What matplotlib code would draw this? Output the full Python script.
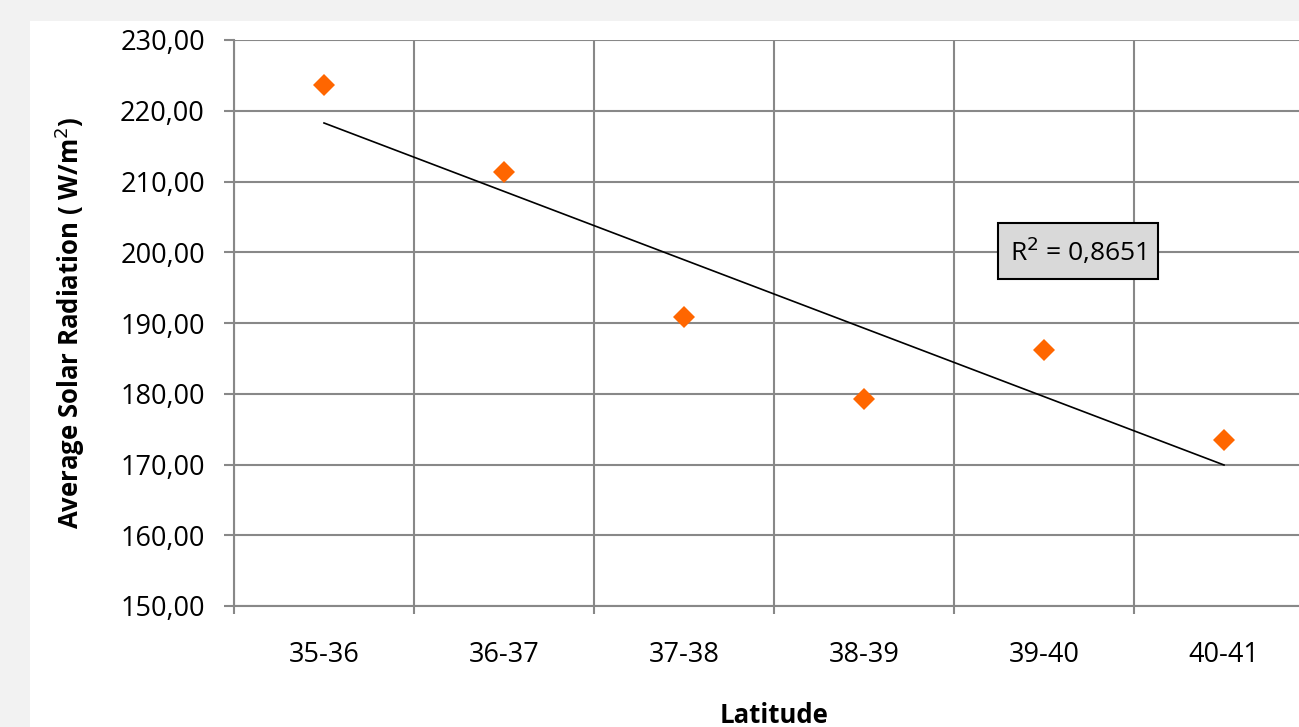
import matplotlib.pyplot as plt
import numpy as np
from matplotlib.ticker import FuncFormatter, MultipleLocator

plt.rcParams['font.family'] = ['Open Sans', 'DejaVu Sans']

latitudes = ['35-36', '36-37', '37-38', '38-39', '39-40', '40-41']
radiation = [223.7, 211.3, 190.8, 179.2, 186.2, 173.4]
r2_text = 'R$^2$ = 0,8651'

fig = plt.figure(figsize=(12.99, 7.27), dpi=100)
fig.patch.set_facecolor('#f2f2f2')

# white chart panel (cropped at right and bottom like the original)
panel = plt.Rectangle((30 / 1299, 0), 1.0, 1 - 21 / 727, transform=fig.transFigure,
                      facecolor='white', edgecolor='none', zorder=-10)
fig.patches.append(panel)

ax = fig.add_axes([234 / 1299, 121 / 727, 1080 / 1299, (606 - 40) / 727])
ax.set_facecolor('white')

x = np.arange(1, len(latitudes) + 1)
ax.plot(x, radiation, linestyle='none', marker='D', markersize=11,
        color='#ff6600', markeredgewidth=0, zorder=3)

# linear trendline
k, b = np.polyfit(x, radiation, 1)
ax.plot(x, k * x + b, color='black', linewidth=1.2, zorder=2)

ax.set_xlim(0.5, 6.5)
ax.set_ylim(150, 230)
ax.yaxis.set_major_locator(MultipleLocator(10))
ax.yaxis.set_major_formatter(FuncFormatter(lambda v, p: f"{v:.2f}".replace('.', ',')))

ax.set_xticks(x)
ax.set_xticklabels(latitudes)
ax.set_xticks(np.arange(0.5, 7, 1), minor=True)
ax.tick_params(axis='x', which='major', length=0, pad=25, labelsize=19.5)
ax.tick_params(axis='x', which='minor', length=6, width=1.5, color='#888888', direction='out')
ax.tick_params(axis='y', length=7.5, width=1.5, color='#888888', labelsize=19.5, pad=13.5)

ax.grid(True, which='major', axis='y', color='#888888', linewidth=1.5)
ax.grid(True, which='minor', axis='x', color='#888888', linewidth=1.5)
ax.set_axisbelow(True)
for s in ['top', 'right']:
    ax.spines[s].set_visible(False)
for s in ['left', 'bottom']:
    ax.spines[s].set_color('#888888')
    ax.spines[s].set_linewidth(1.5)

ax.set_ylabel('Average Solar Radiation ( W/m$^2$)', fontsize=18.5, fontweight='bold', labelpad=24)
# the original crops this label at the bottom; keep it just inside the frame
ax.set_xlabel('Latitude', fontsize=18.5, fontweight='bold', labelpad=24)

ax.text(1078 / 1299, 1 - 251 / 727, r2_text,
        transform=fig.transFigure, fontsize=19, ha='center', va='center',
        bbox=dict(boxstyle='square,pad=0.45', facecolor='#d9d9d9', edgecolor='black', linewidth=1.5))

plt.savefig('out.png', dpi=100)
